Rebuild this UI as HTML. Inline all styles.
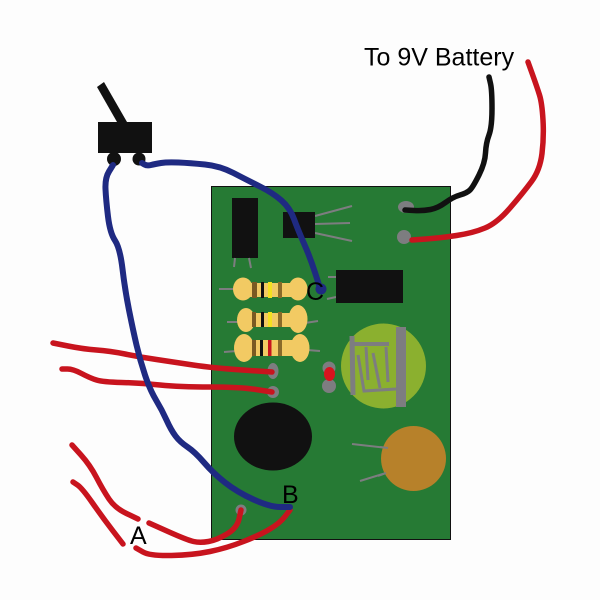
<!DOCTYPE html>
<html><head><meta charset="utf-8"><style>
html,body{margin:0;padding:0;background:#fdfdfd}
svg{display:block}
text{font-family:"Liberation Sans",sans-serif;fill:#000}
.g{stroke:#7d7d80;fill:none;stroke-linecap:butt}
.w{fill:none;stroke-linecap:round;stroke-linejoin:round}
.r{stroke:#c8141e;stroke-width:5.5}
.b{stroke:#1f2a82;stroke-width:6}
</style></head><body>
<svg width="600" height="600" viewBox="0 0 600 600" xmlns="http://www.w3.org/2000/svg">
<rect width="600" height="600" fill="#fdfdfd"/>
<!-- board -->
<rect x="211.5" y="186.5" width="239" height="353" fill="#267a34" stroke="#111" stroke-width="1"/>
<!-- IC legs -->
<rect x="232" y="198" width="26" height="60" fill="#111"/>
<g class="g" stroke-width="2">
<path d="M235 258L234 267M249 258L251 268"/>
<path d="M315 216L352 206M315 224L350 223M315 233L352 241"/>
<path d="M328 277L336 277M327 299L336 297"/>
<path d="M219 289L234 289M303 288L310 289"/>
<path d="M227 322L238 322M305 323L318 321"/>
<path d="M224 352L237 351M307 350L320 351"/>
<path d="M352 444L388 448M360 481L386 473"/>
</g>
<rect x="283" y="212" width="32" height="26" fill="#111"/>
<rect x="336" y="270" width="67" height="33" fill="#111"/>
<!-- resistors -->
<g fill="#f2ca63">
<ellipse cx="243" cy="289" rx="10" ry="11.5"/><ellipse cx="298" cy="289" rx="9.5" ry="11.5"/><rect x="240" y="283" width="60" height="14"/>
<ellipse cx="246" cy="320" rx="9" ry="12"/><ellipse cx="298" cy="319" rx="9.5" ry="14"/><rect x="244" y="313" width="54" height="14"/>
<ellipse cx="244" cy="348" rx="10" ry="14"/><ellipse cx="300" cy="348" rx="9.5" ry="14"/><rect x="242" y="340" width="58" height="16"/>
</g>
<g>
<rect x="252" y="282" width="5" height="16" fill="#7a5a22"/><rect x="261" y="282" width="3" height="16" fill="#111"/><rect x="268" y="282" width="4" height="16" fill="#f5e020"/><rect x="278" y="282" width="4" height="16" fill="#8a6a2a"/>
<rect x="252" y="312" width="4" height="15" fill="#7a5a22"/><rect x="261" y="312" width="3" height="15" fill="#111"/><rect x="268" y="312" width="4" height="15" fill="#f5e020"/><rect x="278" y="312" width="4" height="15" fill="#8a6a2a"/>
<rect x="252" y="340" width="4" height="16" fill="#7a5a22"/><rect x="260" y="340" width="3" height="16" fill="#111"/><rect x="268" y="340" width="3.5" height="16" fill="#c8141e"/><rect x="278" y="340" width="4" height="16" fill="#8a6a2a"/>
</g>
<!-- green component -->
<circle cx="383.5" cy="366" r="42.5" fill="#8bb02f"/>
<rect x="396" y="327" width="10" height="80" fill="#7d7d80"/>
<g class="g" stroke-width="4">
<path d="M352 336L353 395" stroke-width="5"/>
<path d="M351 344L389 344"/>
<path d="M386 347L388 382" stroke-width="3"/>
<path d="M358 355L364 391L396 389" stroke-width="3"/>
<path d="M366 347L368 380" stroke-width="3"/>
<path d="M373 353L380 388" stroke-width="3"/>
</g>
<!-- black disc, orange disc -->
<ellipse cx="273" cy="436.5" rx="39" ry="34" fill="#111"/>
<circle cx="413.5" cy="458.5" r="32.5" fill="#b7812a"/>
<path class="g" stroke-width="2" d="M380 447L388 448M378 476L386 473"/>
<!-- pads -->
<g fill="#7d7d80">
<ellipse cx="406" cy="207" rx="8" ry="6"/>
<circle cx="404" cy="237" r="7"/>
<ellipse cx="273" cy="371" rx="5.5" ry="8"/>
<circle cx="273" cy="392" r="6"/>
<circle cx="329" cy="368" r="6.5"/>
<circle cx="329" cy="386" r="7"/>
<circle cx="241" cy="510" r="5.5"/>
</g>
<ellipse cx="329.5" cy="374" rx="5.5" ry="7" fill="#d8141e"/>
<!-- switch -->
<polygon points="97,87 104,82 127,122 117,122" fill="#111"/>
<rect x="98" y="122" width="54" height="31" fill="#111"/>
<circle cx="114" cy="159" r="7" fill="#111"/>
<circle cx="139" cy="159" r="6.5" fill="#111"/>
<!-- red wires -->
<g class="w r">
<path d="M53 343L68 346Q83 349 96.5 350Q110 351 125 354Q140 357 156.5 359.5Q173 362 193 365Q213 368 242.5 370L272 372"/>
<path d="M62 369L67.5 369Q73 369 81.5 373.5Q90 378 96.5 380Q103 382 121.5 382.5Q140 383 160 385Q180 387 210 387Q240 387 256 389.5L272 392"/>
<path d="M72 445L81 455Q90 465 96.5 477.5Q103 490 109 499Q115 508 126.5 513.5L138 519"/>
<path d="M149 523L168 531.5Q187 540 193.5 541.5Q200 543 208.5 541.5Q217 540 227 534Q237 528 239 519L241 510"/>
<path d="M73 482L77.5 485Q82 488 92.5 503Q103 518 113 531L123 544"/>
<path d="M136 548L143 552Q150 556 171.5 555.5Q193 555 210 551.5Q227 548 243.5 541.5Q260 535 270 529Q280 523 285 516.5L290 510"/>
<path d="M528 62L532.5 74.5Q537 87 539.5 95Q542 103 543 120Q544 137 542 153.5Q540 170 531.5 181.5Q523 193 510 208Q497 223 485 228Q473 233 456.5 235.5Q440 238 426 239L412 240"/>
</g>
<!-- black wire -->
<path class="w" stroke="#111" stroke-width="5.5" d="M489 77L490.5 83.5Q492 90 492 108.5Q492 127 489 135Q486 143 485.5 153Q485 163 479 175Q473 187 470 190Q467 193 460 195Q453 197 445.5 202.5Q438 208 430.5 209.5Q423 211 414 210.5L405 210"/>
<!-- blue wires -->
<g class="w b">
<path d="M113 165L109 171.5Q105 178 105.5 189Q106 200 108 216.5Q110 233 115 240.5Q120 248 122.5 269Q125 290 129 310Q133 330 136.5 345Q140 360 145 375Q150 390 156 400Q162 410 166.5 420Q171 430 175.5 436Q180 442 187.5 447Q195 452 204 462.5Q213 473 225 482.5Q237 492 253.5 499.5Q270 507 280 507L290 507"/>
<path d="M142 163L144.5 164.5Q147 166 151 165Q155 164 161 163Q167 162 178.5 162.5Q190 163 205 164.5Q220 166 233.5 173Q247 180 260 186.5Q273 193 281.5 200.5Q290 208 294 219Q298 230 304 243.5Q310 257 315 272.5L320 288"/>
</g>
<circle cx="321" cy="289" r="5.5" fill="#1f2a82"/>
<!-- labels -->
<text x="364" y="65.5" font-size="25">To 9V Battery</text>
<text x="130" y="544" font-size="25">A</text>
<text x="282" y="503" font-size="25">B</text>
<text x="306" y="300" font-size="25">C</text>
</svg>
</body></html>
